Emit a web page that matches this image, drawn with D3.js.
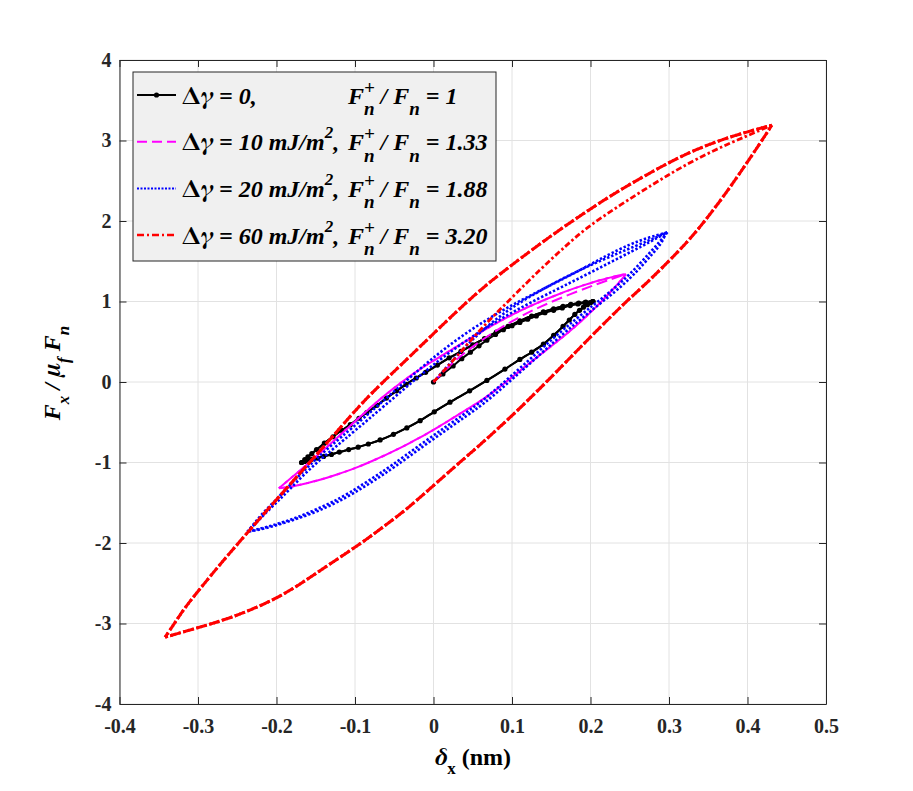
<!DOCTYPE html>
<html><head><meta charset="utf-8">
<script src="https://cdn.jsdelivr.net/npm/d3@7"></script>
</head><body style="margin:0;background:#fff">
<svg id="c" width="913" height="791"></svg>
<script>
// ---------- data ----------
const xTicks = [-0.4,-0.3,-0.2,-0.1,0,0.1,0.2,0.3,0.4,0.5];
const yTicks = [-4,-3,-2,-1,0,1,2,3,4];
const gammaVals = ['0','10','20','60'];
const ratioLabels = ['1','1.33','1.88','3.20'];

// Δγ = 0 (black)
const blackInit = [[0,0],[0.012,0.1],[0.025,0.2],[0.036,0.29],[0.047,0.37],[0.058,0.45],[0.068,0.52],[0.079,0.59],[0.089,0.65],[0.1,0.7],[0.11,0.74],[0.12,0.78],[0.131,0.82],[0.142,0.86],[0.153,0.89],[0.164,0.92],[0.174,0.95],[0.184,0.97],[0.193,0.985],[0.203,1.0]];
const blackUnload = [[0.203,1.0],[0.2,0.985],[0.196,0.96],[0.191,0.93],[0.186,0.89],[0.18,0.84],[0.173,0.77],[0.165,0.69],[0.153,0.58],[0.14,0.47],[0.125,0.37],[0.11,0.28],[0.091,0.16],[0.068,0.02],[0.046,-0.11],[0.021,-0.25],[0.001,-0.37],[-0.017,-0.48],[-0.034,-0.57],[-0.051,-0.65],[-0.068,-0.72],[-0.083,-0.77],[-0.096,-0.81],[-0.108,-0.84],[-0.12,-0.87],[-0.13,-0.9],[-0.14,-0.925],[-0.148,-0.945],[-0.155,-0.96],[-0.16,-0.975],[-0.164,-0.987],[-0.168,-1.0]];
const blackReload = [[-0.168,-1.0],[-0.164,-0.965],[-0.16,-0.93],[-0.155,-0.89],[-0.149,-0.84],[-0.139,-0.76],[-0.128,-0.68],[-0.117,-0.6],[-0.106,-0.53],[-0.095,-0.45],[-0.085,-0.38],[-0.072,-0.29],[-0.06,-0.2],[-0.047,-0.11],[-0.035,-0.03],[-0.022,0.05],[-0.01,0.12],[0.005,0.21],[0.02,0.3],[0.035,0.38],[0.05,0.46],[0.065,0.54],[0.08,0.62],[0.095,0.69],[0.11,0.76],[0.125,0.82],[0.14,0.87],[0.153,0.91],[0.165,0.94],[0.175,0.965],[0.185,0.98],[0.194,0.992],[0.203,1.0]];

// Δγ = 10 (magenta)
const magentaInit = [[0,0],[0.02,0.2],[0.04,0.37],[0.07,0.58],[0.1,0.76],[0.136,0.94],[0.176,1.1],[0.212,1.23],[0.245,1.34]];
const magentaUnload = [[0.245,1.34],[0.238,1.25],[0.22,1.06],[0.204,0.9],[0.18,0.68],[0.161,0.53],[0.135,0.33],[0.11,0.14],[0.085,-0.06],[0.06,-0.24],[0.034,-0.39],[0,-0.6],[-0.038,-0.8],[-0.068,-0.94],[-0.106,-1.1],[-0.149,-1.23],[-0.179,-1.3],[-0.197,-1.32]];
const magentaReload = [[-0.197,-1.32],[-0.185,-1.22],[-0.17,-1.1],[-0.15,-0.93],[-0.128,-0.74],[-0.098,-0.47],[-0.06,-0.14],[-0.017,0.17],[0.025,0.41],[0.068,0.67],[0.11,0.89],[0.153,1.07],[0.195,1.22],[0.229,1.31],[0.245,1.34]];

// Δγ = 20 (blue)
const blueInit = [[0,0],[0.02,0.22],[0.04,0.44],[0.07,0.71],[0.1,0.93],[0.14,1.16],[0.187,1.4],[0.24,1.62],[0.275,1.76],[0.298,1.86]];
const blueUnload = [[0.298,1.86],[0.288,1.74],[0.275,1.6],[0.262,1.46],[0.246,1.3],[0.225,1.12],[0.204,0.96],[0.18,0.77],[0.153,0.55],[0.125,0.3],[0.097,0.06],[0.075,-0.13],[0.055,-0.29],[0.021,-0.52],[-0.017,-0.78],[-0.055,-1.05],[-0.08,-1.21],[-0.106,-1.37],[-0.128,-1.49],[-0.149,-1.58],[-0.17,-1.67],[-0.191,-1.74],[-0.215,-1.81],[-0.237,-1.86]];
const blueReload = [[-0.237,-1.86],[-0.228,-1.75],[-0.215,-1.6],[-0.2,-1.46],[-0.187,-1.32],[-0.168,-1.13],[-0.149,-0.95],[-0.128,-0.77],[-0.106,-0.59],[-0.068,-0.27],[-0.017,0.17],[0.025,0.5],[0.068,0.78],[0.11,1.01],[0.153,1.22],[0.187,1.39],[0.22,1.57],[0.25,1.71],[0.272,1.79],[0.298,1.86]];
const blueUnload2 = [[0.296,1.85],[0.291,1.73],[0.279,1.59],[0.266,1.45],[0.251,1.29],[0.23,1.11],[0.209,0.95],[0.185,0.76],[0.158,0.54],[0.13,0.29],[0.102,0.05],[0.08,-0.14],[0.06,-0.3],[0.026,-0.53],[-0.012,-0.79],[-0.05,-1.06],[-0.075,-1.22],[-0.101,-1.38],[-0.124,-1.5],[-0.146,-1.6],[-0.168,-1.68],[-0.19,-1.75],[-0.214,-1.82],[-0.237,-1.86]];
const blueReload2 = [[-0.237,-1.86],[-0.225,-1.74],[-0.211,-1.6],[-0.196,-1.46],[-0.183,-1.33],[-0.164,-1.14],[-0.145,-0.97],[-0.124,-0.8],[-0.102,-0.62],[-0.064,-0.31],[-0.013,0.12],[0.03,0.44],[0.072,0.71],[0.114,0.94],[0.157,1.15],[0.19,1.31],[0.224,1.48],[0.254,1.63],[0.276,1.74],[0.296,1.85]];

// Δγ = 60 (red)
const redInit = [[0,0],[0.03,0.32],[0.06,0.66],[0.1,1.05],[0.136,1.4],[0.165,1.66],[0.195,1.92],[0.238,2.2],[0.28,2.46],[0.314,2.66],[0.357,2.88],[0.4,3.06],[0.431,3.19]];
const redUnload = [[0.431,3.19],[0.415,2.95],[0.399,2.72],[0.378,2.42],[0.356,2.13],[0.335,1.87],[0.314,1.64],[0.272,1.23],[0.25,1.04],[0.233,0.88],[0.2,0.56],[0.182,0.38],[0.15,0.06],[0.114,-0.29],[0.08,-0.6],[0.05,-0.86],[0.025,-1.07],[-0.005,-1.33],[-0.034,-1.58],[-0.06,-1.77],[-0.09,-1.99],[-0.132,-2.26],[-0.165,-2.48],[-0.196,-2.67],[-0.23,-2.82],[-0.259,-2.93],[-0.285,-3.01],[-0.31,-3.08],[-0.342,-3.17]];
const redReload = [[-0.342,-3.17],[-0.33,-3.0],[-0.318,-2.82],[-0.3,-2.6],[-0.28,-2.36],[-0.26,-2.13],[-0.22,-1.68],[-0.18,-1.24],[-0.132,-0.72],[-0.09,-0.24],[-0.047,0.16],[-0.017,0.44],[0.038,0.96],[0.075,1.27],[0.11,1.53],[0.153,1.84],[0.195,2.12],[0.238,2.39],[0.28,2.62],[0.314,2.8],[0.357,2.98],[0.4,3.11],[0.431,3.19]];

// ---------- chart ----------
const SERIF = '"Liberation Serif", "Times New Roman", Times, serif';
const GREEK = 'FreeSerif, "Liberation Serif", serif';
const svg = d3.select('#c');
const M = {l:119.5, r:826, t:60, b:704};
const x = d3.scaleLinear().domain([-0.4,0.5]).range([M.l,M.r]);
const y = d3.scaleLinear().domain([-4,4]).range([M.b,M.t]);
const AX = '#262626';

// grid
const grid = svg.append('g');
grid.selectAll('.gx').data(xTicks).join('line')
  .attr('x1',d=>x(d)).attr('x2',d=>x(d)).attr('y1',M.t).attr('y2',M.b)
  .attr('stroke','#e2e2e2').attr('stroke-width',1);
grid.selectAll('.gy').data(yTicks).join('line')
  .attr('y1',d=>y(d)).attr('y2',d=>y(d)).attr('x1',M.l).attr('x2',M.r)
  .attr('stroke','#e2e2e2').attr('stroke-width',1);

// series
const smoothLine = d3.line().x(d=>x(d[0])).y(d=>y(d[1])).curve(d3.curveBasis);
const markLine = d3.line().x(d=>x(d[0])).y(d=>y(d[1])).curve(d3.curveCatmullRom.alpha(0.5));
const plot = svg.append('g');
function branch(pts, color, w, dash, off, gen){
  plot.append('path').datum(pts).attr('d',gen||smoothLine)
    .attr('fill','none').attr('stroke',color).attr('stroke-width',w)
    .attr('stroke-dasharray',dash||null).attr('stroke-dashoffset',off||0)
    .attr('stroke-linejoin','round');
}
// black
[blackInit, blackUnload, blackReload, blackUnload, blackReload].forEach(p=>branch(p,'#000',2,null,0,markLine));
plot.append('g').selectAll('circle').data([...blackInit,...blackUnload,...blackReload]).join('circle')
  .attr('cx',d=>x(d[0])).attr('cy',d=>y(d[1])).attr('r',2.6).attr('fill','#000');
// magenta
const MD = '11,5';
branch(magentaInit,'#ff00ff',2,MD,0);
branch(magentaUnload,'#ff00ff',2,MD,0);
branch(magentaReload,'#ff00ff',2,MD,0);
branch(magentaUnload,'#ff00ff',2,MD,8);
branch(magentaReload,'#ff00ff',2,MD,8);
// blue
const BD = '2.4,2';
branch(blueInit,'#0000ff',2.6,BD,0);
branch(blueUnload,'#0000ff',2.6,BD,0);
branch(blueReload,'#0000ff',2.6,BD,0);
branch(blueUnload2,'#0000ff',2.6,BD,1);
branch(blueReload2,'#0000ff',2.6,BD,1);
// red
const RD = '6,2.5,2.5,2.5';
branch(redInit,'#ff0000',2.8,RD,0);
branch(redUnload,'#ff0000',3,RD,0);
branch(redReload,'#ff0000',3,RD,0);
branch(redUnload,'#ff0000',3,RD,5);
branch(redReload,'#ff0000',3,RD,5);

// axes
const fmt = d=>String(d);
const styleAxis = g=>{
  g.attr('font-family',null).attr('font-size',null);
  g.select('.domain').attr('stroke',AX).attr('stroke-width',1);
  g.selectAll('.tick line').attr('stroke',AX);
  g.selectAll('.tick text').attr('fill',AX).style('font-size','20px')
    .style('font-family',SERIF).style('font-weight','bold');
};
svg.append('g').attr('transform',`translate(0,${M.b})`)
  .call(d3.axisBottom(x).tickValues(xTicks).tickFormat(fmt).tickSizeInner(-7).tickSizeOuter(0).tickPadding(15))
  .call(styleAxis);
svg.append('g').attr('transform',`translate(${M.l},0)`)
  .call(d3.axisLeft(y).tickValues(yTicks).tickFormat(fmt).tickSizeInner(-7).tickSizeOuter(0).tickPadding(8))
  .call(styleAxis);
svg.append('g').attr('transform',`translate(0,${M.t})`)
  .call(d3.axisTop(x).tickValues(xTicks).tickFormat('').tickSizeInner(-7).tickSizeOuter(0))
  .call(styleAxis);
svg.append('g').attr('transform',`translate(${M.r},0)`)
  .call(d3.axisRight(y).tickValues(yTicks).tickFormat('').tickSizeInner(-7).tickSizeOuter(0))
  .call(styleAxis);

function T(sel){ return sel.style('font-family',SERIF).style('font-weight','bold').attr('fill','#000'); }

// x label
const xl = T(svg.append('text')).attr('x',473).attr('y',765).attr('text-anchor','middle').style('font-size','24px');
xl.append('tspan').style('font-style','italic').style('font-family',GREEK).text('δ');
xl.append('tspan').attr('dy',9).style('font-size','17px').text('x');
xl.append('tspan').attr('dy',-9).text(' (nm)');

// y label
const yl = T(svg.append('text')).attr('transform','translate(60,373) rotate(-90)')
  .attr('text-anchor','middle').style('font-size','24px').style('font-style','italic');
yl.append('tspan').text('F');
yl.append('tspan').attr('dy',9).style('font-size','17px').text('x');
yl.append('tspan').attr('dy',-9).text(' / ');
yl.append('tspan').style('font-family',GREEK).text('μ');
yl.append('tspan').attr('dy',9).style('font-size','17px').text('f');
yl.append('tspan').attr('dy',-9).text(' F');
yl.append('tspan').attr('dy',9).style('font-size','17px').text('n');

// legend
const lg = svg.append('g');
lg.append('rect').attr('x',133).attr('y',72).attr('width',363).attr('height',189)
  .attr('fill','#f0f0f0').attr('stroke',AX).attr('stroke-width',1);
const legColors = ['#000','#ff00ff','#0000ff','#ff0000'];
const legDash = [null,'10,5','2,1.5','7,3,2,3'];
const legW = [2,2,2,2.5];
const tmp = T(svg.append('text')).style('font-size','19px').style('font-style','italic').text('+');
const plusW = tmp.node().getComputedTextLength(); tmp.remove();
gammaVals.forEach((g,i)=>{
  const by = 103.5 + i*46.7;
  lg.append('line').attr('x1',137).attr('x2',176).attr('y1',by-8.5).attr('y2',by-8.5)
    .attr('stroke',legColors[i]).attr('stroke-width',legW[i]).attr('stroke-dasharray',legDash[i]);
  if(i===0) lg.append('circle').attr('cx',156.5).attr('cy',by-8.5).attr('r',2.6).attr('fill','#000');
  const t = T(lg.append('text')).attr('x',182).attr('y',by).style('font-size','24px').style('font-style','italic');
  t.append('tspan').style('font-style','normal').style('font-family',GREEK).text('Δ');
  t.append('tspan').style('font-family',GREEK).text('γ');
  t.append('tspan').text(' = ' + g + (g==='0' ? ',' : ' mJ/m'));
  if(g!=='0'){
    t.append('tspan').attr('dy',-12).style('font-size','17px').text('2');
    t.append('tspan').attr('dy',12).text(',');
  }
  const f = T(lg.append('text')).attr('x',348).attr('y',by).style('font-size','24px').style('font-style','italic');
  f.append('tspan').text('F');
  f.append('tspan').attr('dy',-10).style('font-size','19px').text('+');
  f.append('tspan').attr('dx',-plusW).attr('dy',21.5).style('font-size','19px').text('n');
  f.append('tspan').attr('dy',-11.5).text(' / F');
  f.append('tspan').attr('dy',11.5).style('font-size','19px').text('n');
  f.append('tspan').attr('dy',-11.5).text(' = ' + ratioLabels[i]);
});
</script>
</body></html>
